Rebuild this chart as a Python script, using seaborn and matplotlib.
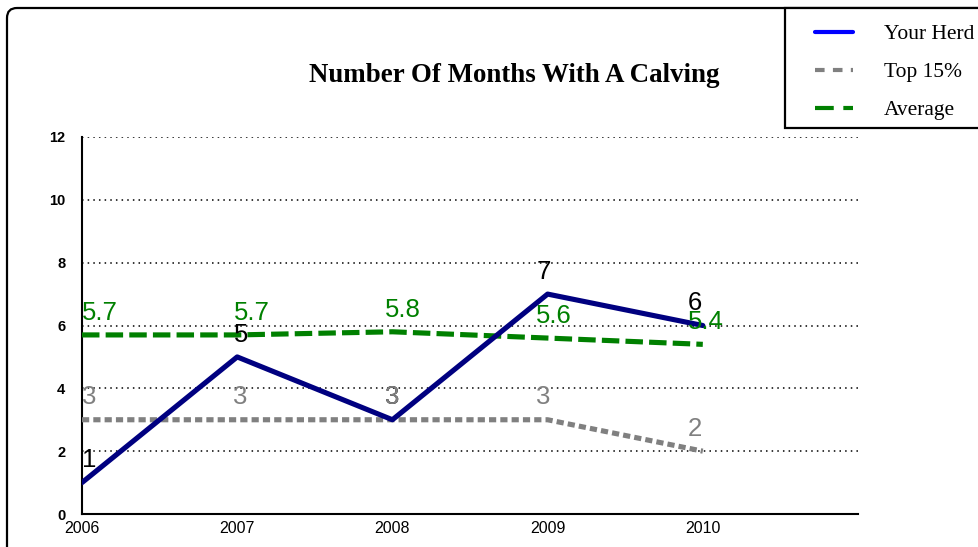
import numpy as np
import pandas as pd
import matplotlib
matplotlib.use("Agg")
import matplotlib.pyplot as plt
import seaborn as sns
from matplotlib.lines import Line2D
from matplotlib.patches import FancyBboxPatch, Rectangle

# data
years = [2006, 2007, 2008, 2009, 2010]
your_herd = [1, 5, 3, 7, 6]
top_15 = [3, 3, 3, 3, 2]
average = [5.7, 5.7, 5.8, 5.6, 5.4]
yticks = [0, 2, 4, 6, 8, 10, 12]

series_names = ['Your Herd', 'Top 15%', 'Average']
line_colors = {'Your Herd': '#000080', 'Top 15%': '#808080', 'Average': '#008000'}
legend_colors = {'Your Herd': '#0000ff', 'Top 15%': '#808080', 'Average': '#008000'}
label_colors = {'Your Herd': 'black', 'Top 15%': '#808080', 'Average': '#008000'}
dash_styles = {'Your Herd': '', 'Top 15%': (1.4, 0.8), 'Average': (3.4, 1.2)}

df = pd.DataFrame({'Year': years * 3,
                   'Value': your_herd + top_15 + average,
                   'Series': ['Your Herd'] * 5 + ['Top 15%'] * 5 + ['Average'] * 5})

sns.set_style('white')
plt.rcParams['font.family'] = ['Liberation Sans', 'DejaVu Sans']
plt.rcParams['text.color'] = 'black'
plt.rcParams['xtick.color'] = 'black'
plt.rcParams['ytick.color'] = 'black'
plt.rcParams['xtick.labelcolor'] = 'black'
plt.rcParams['ytick.labelcolor'] = 'black'

fig = plt.figure(figsize=(9.79, 5.47), dpi=100)
ax = fig.add_axes([82 / 979, 1 - 514 / 547, 776 / 979, 377 / 547])

# dotted grid
for yv in yticks:
    ax.axhline(yv, color='black', lw=1.1, linestyle=(0, (1, 2.7)), zorder=1)

sns.lineplot(data=df, x='Year', y='Value', hue='Series', style='Series',
             hue_order=series_names[::-1], style_order=series_names[::-1],
             palette=line_colors, dashes=dash_styles, linewidth=3.7,
             legend=False, ax=ax, zorder=3)

# value labels
for name, vals in zip(series_names, [your_herd, top_15, average]):
    for i, (yr, v) in enumerate(zip(years, vals)):
        ax.annotate(f'{v:g}', (yr, v), xytext=(-2.7 * i, 11),
                    textcoords='offset points', ha='left', va='baseline',
                    fontsize=18.5, color=label_colors[name], zorder=4)

ax.set_xlim(2006, 2011)
ax.set_ylim(0, 12)
ax.set_xticks(years)
ax.set_xticklabels([str(y) for y in years], fontsize=11.5)
ax.set_yticks(yticks)
ax.set_yticklabels([str(y) for y in yticks], fontsize=10.5, fontweight='bold')
ax.set_xlabel('')
ax.set_ylabel('')
ax.tick_params(axis='both', length=4, width=1, color='black', direction='out')
ax.tick_params(axis='y', pad=8)
ax.tick_params(axis='x', pad=1)
for side in ['top', 'right']:
    ax.spines[side].set_visible(False)
for side in ['left', 'bottom']:
    ax.spines[side].set_color('black')
    ax.spines[side].set_linewidth(1.5)
ax.patch.set_alpha(0)

# title
fig.text(514 / 979, 1 - 76 / 547, 'Number Of Months With A Calving',
         ha='center', va='center', fontsize=19.4, fontweight='bold',
         color='black', family=['Liberation Serif', 'DejaVu Serif'])

# outer rounded frame
frame = FancyBboxPatch((0.07, -0.3), 10.3, 5.69,
                       boxstyle='round,pad=0,rounding_size=0.1',
                       transform=fig.dpi_scale_trans, facecolor='none',
                       edgecolor='black', linewidth=1.6, zorder=0)
fig.add_artist(frame)

# legend box
box = Rectangle((785 / 979, 1 - 128 / 547), 210 / 979, 120 / 547,
                transform=fig.transFigure, facecolor='white',
                edgecolor='black', linewidth=1.6, zorder=4)
fig.add_artist(box)

handles = [Line2D([], [], color=legend_colors['Your Herd'], lw=3),
           Line2D([], [], color=legend_colors['Top 15%'], lw=3,
                  dashes=(2.3, 2.0)),
           Line2D([], [], color=legend_colors['Average'], lw=3,
                  dashes=(4.5, 2.3))]
leg = fig.legend(handles, series_names, loc='upper left',
                 bbox_to_anchor=(815 / 979, 1 - 24 / 547),
                 frameon=False, borderpad=0, borderaxespad=0,
                 handlelength=38 / 21.5, handletextpad=31 / 21.5,
                 labelspacing=0.84,
                 prop={'family': ['Liberation Serif', 'DejaVu Serif'], 'size': 15.5})
leg.set_zorder(5)

fig.savefig('out.png', dpi=100)
